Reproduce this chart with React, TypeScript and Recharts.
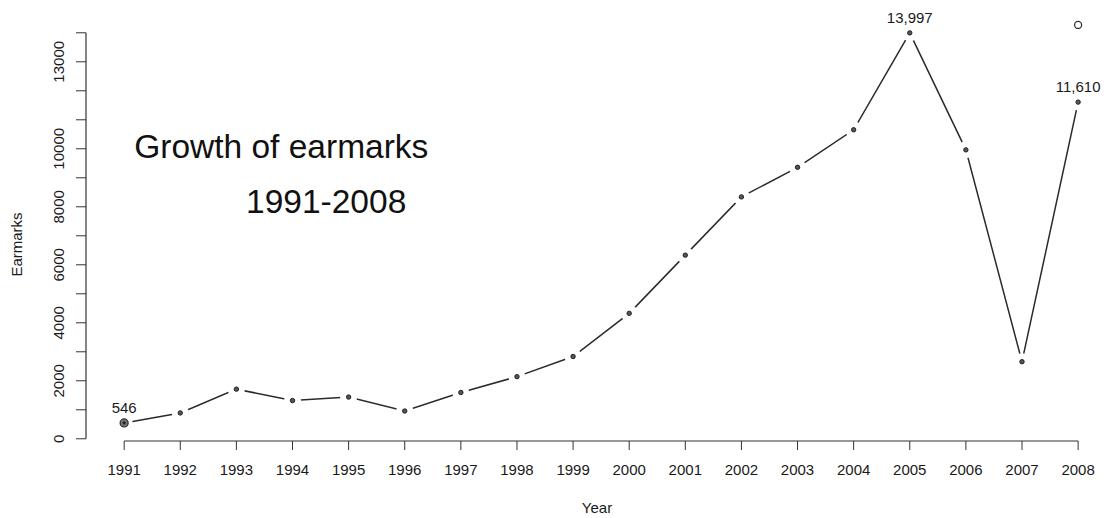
import { Label, LabelList, Line, LineChart, ReferenceDot, ReferenceLine, XAxis, YAxis } from 'recharts';

const years = [1991, 1992, 1993, 1994, 1995, 1996, 1997, 1998, 1999, 2000, 2001, 2002, 2003, 2004, 2005, 2006, 2007, 2008];
const earmarks = [546, 892, 1712, 1318, 1439, 958, 1596, 2143, 2838, 4326, 6333, 8341, 9362, 10656, 13997, 9963, 2658, 11610];
// lone open circle drawn above the 2008 point
const extra = [null, null, null, null, null, null, null, null, null, null, null, null, null, null, null, null, null, 14270];
const labelledYears = [1991, 2005, 2008];
const yTicks = [0, 1000, 2000, 3000, 4000, 5000, 6000, 7000, 8000, 9000, 10000, 11000, 12000, 13000, 14000];
const yTickLabels = [0, 2000, 4000, 6000, 8000, 10000, 13000];

const data = years.map((year, i) => ({ year, earmarks: earmarks[i], extra: extra[i] }));

const X_DOMAIN = [1990.32, 2008.39];
const Y_DOMAIN = [-76, 14441];
const INK = '#1a1a1a';
const FONT = '"Liberation Sans", Arial, sans-serif';

const YTick = ({ x, y, payload }: any) => {
  if (!yTickLabels.includes(payload.value)) return <g />;
  return (
    <text x={x} y={y} transform={`rotate(-90 ${x} ${y})`} textAnchor="middle" fontSize={15} fill={INK}>
      {payload.value}
    </text>
  );
};

// white halo cuts the line around each point (R type="b")
const PointDot = (props: any) => {
  const { cx, cy, index } = props;
  if (cx == null || cy == null) return <g key={index} />;
  return (
    <g key={index}>
      <circle cx={cx} cy={cy} r={8.5} style={{ fill: '#ffffff', stroke: 'none' }} />
      {index === 0 ? (
        <>
          <circle cx={cx} cy={cy} r={4} style={{ fill: '#777', stroke: '#333', strokeWidth: 1.3 }} />
          <circle cx={cx} cy={cy} r={1.6} style={{ fill: '#222' }} />
        </>
      ) : (
        <circle cx={cx} cy={cy} r={2.2} style={{ fill: '#555', stroke: '#222', strokeWidth: 1 }} />
      )}
    </g>
  );
};

const ValueLabel = ({ x, y, value, index }: any) => {
  if (!labelledYears.includes(years[index])) return <g />;
  return (
    <text x={x} y={y - 10} textAnchor="middle" fontSize={15} fill={INK}>
      {Number(value).toLocaleString('en-US')}
    </text>
  );
};

export default function App() {
  return (
    <div style={{ position: 'absolute', left: 0, top: 0, fontFamily: FONT, background: '#fff' }}>
      <LineChart width={1107} height={518} data={data} margin={{ top: 20, right: 7, bottom: 17, left: 0 }}>
        <XAxis
          dataKey="year"
          type="number"
          domain={X_DOMAIN}
          ticks={years}
          interval={0}
          allowDataOverflow
          axisLine={false}
          tickLine={{ stroke: '#333' }}
          tickSize={9}
          tickMargin={14}
          tick={{ fill: INK, fontSize: 15 }}
          height={60}
          label={({ viewBox }: any) => (
            <text x={viewBox.x + viewBox.width / 2 + 4} y={viewBox.y + 72} textAnchor="middle" fontSize={15} fill={INK}>
              Year
            </text>
          )}
        />
        <YAxis
          type="number"
          domain={Y_DOMAIN}
          ticks={yTicks}
          interval={0}
          allowDataOverflow
          axisLine={false}
          tickLine={{ stroke: '#333' }}
          tickSize={10}
          tickMargin={12}
          tick={<YTick />}
          width={86}
          label={({ viewBox }: any) => {
            const lx = 22;
            const ly = viewBox.y + viewBox.height / 2 + 14;
            return (
              <text x={lx} y={ly} transform={`rotate(-90 ${lx} ${ly})`} textAnchor="middle" fontSize={15} fill={INK}>
                Earmarks
              </text>
            );
          }}
        />
        <ReferenceLine
          segment={[{ x: X_DOMAIN[0], y: 0 }, { x: X_DOMAIN[0], y: 14000 }]}
          stroke="#333"
          strokeWidth={1.2}
          ifOverflow="visible"
        />
        <ReferenceLine
          segment={[{ x: years[0], y: Y_DOMAIN[0] }, { x: years[years.length - 1], y: Y_DOMAIN[0] }]}
          stroke="#333"
          strokeWidth={1.2}
          ifOverflow="visible"
        />
        <ReferenceDot x={1993.8} y={10100} r={0} ifOverflow="visible">
          <Label value="Growth of earmarks" position="center" fontSize={33.5} fill="#111" />
        </ReferenceDot>
        <ReferenceDot x={1994.6} y={8200} r={0} ifOverflow="visible">
          <Label value="1991-2008" position="center" fontSize={33.5} fill="#111" />
        </ReferenceDot>
        {/* the connecting line */}
        <Line
          dataKey="earmarks"
          type="linear"
          stroke="#2a2a2a"
          strokeWidth={1.5}
          dot={false}
          activeDot={false}
          isAnimationActive={false}
        />
        {/* points drawn on top so their halos cut the line */}
        <Line
          dataKey="earmarks"
          type="linear"
          stroke="none"
          dot={(p: any) => <PointDot key={p.index} {...p} />}
          activeDot={false}
          isAnimationActive={false}
        >
          <LabelList dataKey="earmarks" content={<ValueLabel />} />
        </Line>
        <Line
          dataKey="extra"
          stroke="none"
          dot={{ r: 3.5, fill: '#fff', stroke: '#333', strokeWidth: 1.3 }}
          activeDot={false}
          isAnimationActive={false}
        />
      </LineChart>
    </div>
  );
}
